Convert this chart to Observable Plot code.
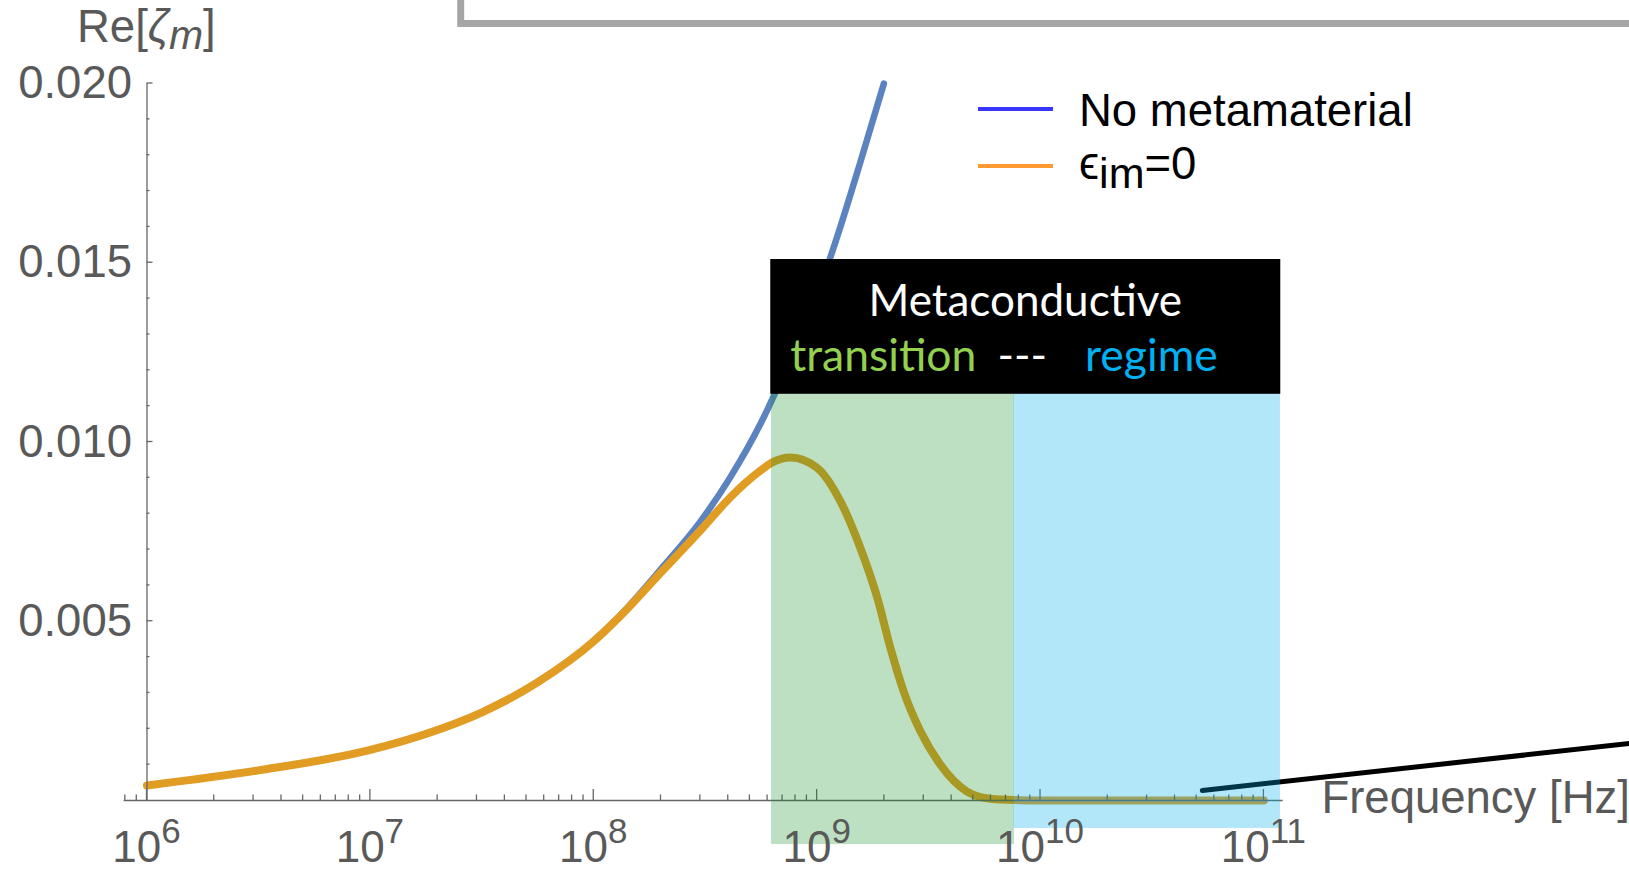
<!DOCTYPE html>
<html>
<head>
<meta charset="utf-8">
<script src="https://cdn.jsdelivr.net/npm/d3@7"></script>
<script src="https://cdn.jsdelivr.net/npm/@observablehq/plot@0.6"></script>
<style>
  html, body { margin: 0; padding: 0; background: #fff; overflow: hidden; }
  #chart { width: 1629px; height: 869px; }
</style>
</head>
<body>
<div id="chart"></div>
<script>
// Re[zeta_m] without metamaterial (rises as the square root of frequency)
const freqNoMeta = [1e6, 3.16e6, 1e7, 1.78e7, 3.16e7, 5.62e7, 1e8, 1.27e8, 2.06e8, 3e8, 4.09e8, 5.57e8, 8.4e8, 1.11e9, 1.27e9, 1.56e9, 1.99e9];
const reNoMeta   = [0.00042, 0.00084, 0.00141, 0.00186, 0.00246, 0.0033, 0.00446, 0.00507, 0.00655, 0.00778, 0.00902, 0.0105, 0.0130, 0.0149, 0.0160, 0.0178, 0.0200];

// Re[zeta_m] with eps_im = 0 (peaks near 0.75 GHz, then collapses)
const freqEps = [1e6, 3.16e6, 1e7, 1.78e7, 3.16e7, 5.62e7, 1e8, 1.27e8, 2.06e8, 3e8, 4.09e8, 5.57e8, 6.25e8, 7.6e8, 1e9, 1.27e9, 1.56e9, 1.86e9, 2.13e9, 2.44e9, 2.9e9, 3.56e9, 4.69e9, 5.97e9, 8e9, 1e10, 1e11];
const reEps   = [0.00042, 0.00084, 0.00141, 0.00186, 0.00246, 0.0033, 0.00444, 0.00505, 0.00645, 0.00753, 0.00846, 0.0092, 0.00942, 0.00957, 0.00928, 0.00835, 0.00705, 0.00565, 0.00425, 0.00304, 0.00193, 0.00100, 0.00025, 0.00005, 0.00001, 0, 0];

// Axis ticks
const yTickValues = [0.005, 0.010, 0.015, 0.020];
const xDecades = [6, 7, 8, 9, 10, 11];

// Frequency bands of the metaconductive regions (Hz) and their vertical extent
const transitionBand = [6.25e8, 7.64e9];
const regimeBand = [7.6e9, 1.186e11];
const bandTop = 0.01133;
const transitionBottom = -0.00123;
const regimeBottom = -0.00078;
const titleBoxBand = [6.2e8, 1.19e11];
const titleBoxValues = [0.01133, 0.01509];

// Pointer line running off to the right
const pointerFreq = [5.3e10, 4.33e12];
const pointerVal = [0.00028, 0.00159];

// Inset frame peeking in at the top
const insetFrameFreq = [2.55e7, 1e14];
const insetFrameVal = [0.02166, 0.03];

const seriesNames = ["No metamaterial", "\u03f5im=0"];

const noMeta = freqNoMeta.map((f, i) => ({f, v: reNoMeta[i]}));
const eps = freqEps.map((f, i) => ({f, v: reEps[i]}));

const axisGray = "#666666";
const labelGray = "#595959";
const sansFont = "'Liberation Sans', Arial, sans-serif";
const textSize = 45.5;

const plot = Plot.plot({
  width: 1629,
  height: 869,
  marginLeft: 146.5,
  marginRight: 365.6,
  marginTop: 83,
  marginBottom: 69,
  style: {background: "transparent", fontFamily: sansFont},
  x: {type: "log", domain: [1e6, 1e11], axis: null},
  y: {domain: [0, 0.02], axis: null},
  marks: [
    Plot.line(noMeta, {x: "f", y: "v", stroke: "#5b83bf", strokeWidth: 6.5, curve: "monotone-x"}),
    Plot.line(eps, {x: "f", y: "v", stroke: "#e19c24", strokeWidth: 8, curve: "monotone-x"}),
    Plot.ruleY([0], {x1: 7.9e5, x2: 1.22e11, stroke: axisGray, strokeWidth: 1.3}),
    Plot.ruleX([1e6], {y1: 0, y2: 0.02, stroke: axisGray, strokeWidth: 1.3}),
    Plot.axisY({
      ticks: yTickValues, tickSize: 0, tickPadding: 15,
      tickFormat: d3.format(".3f"), fontSize: textSize, fontFamily: sansFont,
      fill: labelGray, label: null
    }),
    Plot.line(pointerFreq.map((f, i) => ({f, v: pointerVal[i]})), {x: "f", y: "v", stroke: "#000", strokeWidth: 5}),
    Plot.rect([0], {x1: transitionBand[0], x2: transitionBand[1], y1: transitionBottom, y2: bandTop, fill: "rgb(20,145,35)", fillOpacity: 0.28}),
    Plot.rect([0], {x1: regimeBand[0], x2: regimeBand[1], y1: regimeBottom, y2: bandTop, fill: "#00b0f0", fillOpacity: 0.3}),
    Plot.rect([0], {x1: titleBoxBand[0], x2: titleBoxBand[1], y1: titleBoxValues[0], y2: titleBoxValues[1], fill: "#000"}),
    Plot.rect([0], {x1: insetFrameFreq[0], x2: insetFrameFreq[1], y1: insetFrameVal[0], y2: insetFrameVal[1], fill: "none", stroke: "#a6a6a6", strokeWidth: 7})
  ]
});

document.getElementById("chart").appendChild(plot);

const X = plot.scale("x");
const Y = plot.scale("y");
const svg = d3.select(plot);

// Tick marks sit beneath the translucent bands
const ticks = svg.insert("g", "g[aria-label='rect']")
  .attr("stroke", axisGray).attr("stroke-width", 1.3);

const x0 = X.apply(1e6);
for (let i = 1; i <= 20; i++) {
  const v = i / 1000;
  const len = i % 5 === 0 ? 6 : 3;
  const py = Y.apply(v);
  ticks.append("line").attr("x1", x0).attr("x2", x0 + len).attr("y1", py).attr("y2", py);
}

const y0 = Y.apply(0);
for (let k = 5; k <= 11; k++) {
  for (let m = 1; m <= 9; m++) {
    const v = m * Math.pow(10, k);
    if (v < 7.9e5 || v > 1.22e11) continue;
    const px = X.apply(v);
    const len = m === 1 ? 11 : 5.5;
    ticks.append("line").attr("x1", px).attr("x2", px).attr("y1", y0).attr("y2", y0 - len);
  }
}

// Decade labels 10^n
const xLabels = svg.append("g")
  .attr("font-family", sansFont).attr("fill", labelGray).attr("text-anchor", "middle");
for (const k of xDecades) {
  const t = xLabels.append("text")
    .attr("x", X.apply(Math.pow(10, k))).attr("y", 862).attr("font-size", 44);
  t.append("tspan").text("10");
  t.append("tspan").attr("dy", -19).attr("font-size", 35).text(String(k));
}

// Axis titles
svg.append("text")
  .attr("x", X.apply(1e11) + 58).attr("y", 813).attr("text-anchor", "start")
  .attr("font-family", sansFont).attr("font-size", textSize).attr("fill", labelGray)
  .text("Frequency [Hz]");

const yTitle = svg.append("text")
  .attr("x", 77).attr("y", 42).attr("text-anchor", "start")
  .attr("font-family", sansFont).attr("font-size", textSize).attr("fill", labelGray);
yTitle.append("tspan").text("Re[");
yTitle.append("tspan").attr("font-style", "italic").text("\u03b6");
yTitle.append("tspan").attr("font-style", "italic").attr("font-size", 41).attr("dy", 7).text("m");
yTitle.append("tspan").attr("dy", -7).text("]");

// Legend
const legend = svg.append("g").attr("font-family", sansFont).attr("font-size", textSize)
  .attr("fill", "#000").attr("text-anchor", "start");
legend.append("line").attr("x1", 978).attr("x2", 1053).attr("y1", 109).attr("y2", 109)
  .attr("stroke", "#3636ff").attr("stroke-width", 4);
legend.append("line").attr("x1", 978).attr("x2", 1053).attr("y1", 166).attr("y2", 166)
  .attr("stroke", "#ff9a33").attr("stroke-width", 4);
legend.append("text").attr("x", 1079).attr("y", 126).text(seriesNames[0]);
const epsLabel = legend.append("text").attr("x", 1079).attr("y", 179);
epsLabel.append("tspan").text("\u03f5");
epsLabel.append("tspan").attr("dy", 9).attr("font-size", 43).text("im");
epsLabel.append("tspan").attr("dy", -9).text("=0");

// Region labels inside the black box
const boxLeft = X.apply(titleBoxBand[0]);
const boxRight = X.apply(titleBoxBand[1]);
const boxFont = "Lato, 'Open Sans', sans-serif";
svg.append("text")
  .attr("x", (boxLeft + boxRight) / 2).attr("y", 316)
  .attr("text-anchor", "middle").attr("font-family", boxFont).attr("font-size", 44)
  .attr("fill", "#fff").text("Metaconductive");
const line2 = svg.append("text")
  .attr("x", boxLeft + 20).attr("y", 371).attr("text-anchor", "start")
  .attr("font-family", boxFont).attr("font-size", 44.5);
line2.append("tspan").attr("fill", "#92d050").text("transition");
line2.append("tspan").attr("dx", 21).attr("fill", "#fff").text("---");
line2.append("tspan").attr("dx", 38).attr("fill", "#00b0f0").text("regime");
</script>
</body>
</html>
